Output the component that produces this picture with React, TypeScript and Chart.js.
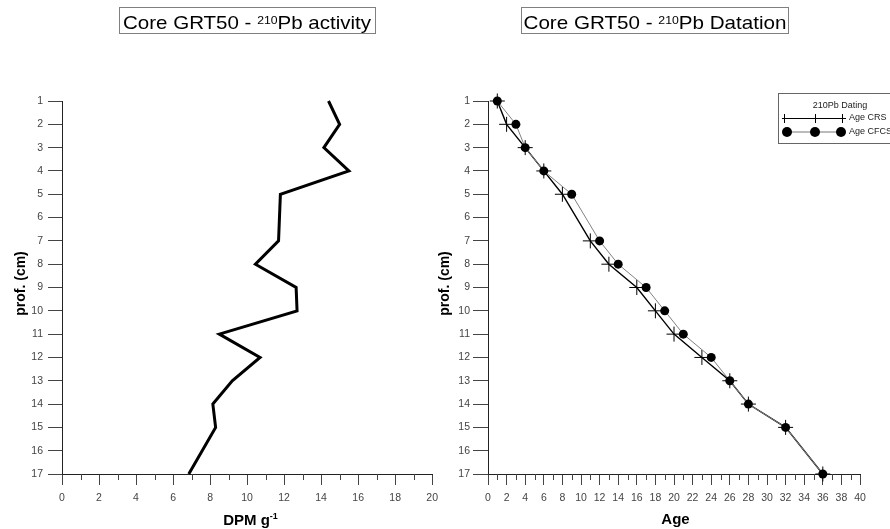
import React, { useEffect, useRef } from "react";
import { Chart, registerables } from "chart.js";

Chart.register(...registerables);

// ---------- data ----------
const depths = [1, 2, 3, 4, 5, 7, 8, 9, 10, 11, 12, 13, 14, 15, 17];
const activity = [14.4, 15.0, 14.15, 15.5, 11.8, 11.7, 10.45, 12.65, 12.7, 8.5, 10.7, 9.2, 8.15, 8.3, 6.85];
const ageCRS = [1, 2, 4, 6, 8, 11, 13, 16, 18, 20, 23, 26, 28, 32, 36];
const ageCFCS = [1, 3, 4, 6, 9, 12, 14, 17, 19, 21, 24, 26, 28, 32, 36];
const depthRange = [1, 17];
const activityRange = [0, 20];
const ageRange = [0, 40];
const legendTitle = "210Pb Dating";
const seriesNames = ["Age CRS", "Age CFCS"];

const FONT = "'Liberation Sans', Arial, Helvetica, sans-serif";

type Part = { t: string; sup?: boolean };

function partsWidth(ctx: CanvasRenderingContext2D, parts: Part[], font: string, supFont: string) {
  let w = 0;
  for (const p of parts) {
    ctx.font = p.sup ? supFont : font;
    w += ctx.measureText(p.t).width;
  }
  return w;
}

function drawParts(
  ctx: CanvasRenderingContext2D,
  parts: Part[],
  x: number,
  y: number,
  font: string,
  supFont: string,
  rise: number,
  targetW?: number
) {
  const w = partsWidth(ctx, parts, font, supFont);
  const s = targetW ? targetW / w : 1;
  ctx.save();
  ctx.translate(x, y);
  ctx.scale(s, 1);
  ctx.textAlign = "left";
  ctx.textBaseline = "alphabetic";
  let cx = 0;
  for (const p of parts) {
    ctx.font = p.sup ? supFont : font;
    ctx.fillText(p.t, cx, p.sup ? -rise : 0);
    cx += ctx.measureText(p.t).width;
  }
  ctx.restore();
  return w * s;
}

function drawCentered(
  ctx: CanvasRenderingContext2D,
  parts: Part[],
  cx: number,
  y: number,
  font: string,
  supFont: string,
  rise: number
) {
  const w = partsWidth(ctx, parts, font, supFont);
  drawParts(ctx, parts, cx - w / 2, y, font, supFont, rise);
}

function drawYTitle(ctx: CanvasRenderingContext2D, text: string, cx: number, cy: number) {
  ctx.save();
  ctx.translate(cx, cy);
  ctx.rotate(-Math.PI / 2);
  ctx.font = `bold 14px ${FONT}`;
  ctx.fillStyle = "#000";
  ctx.textAlign = "center";
  ctx.textBaseline = "middle";
  ctx.fillText(text, 0, 0);
  ctx.restore();
}

function drawMinorTicks(chart: any, max: number) {
  const ctx: CanvasRenderingContext2D = chart.ctx;
  const xs = chart.scales.x;
  const bottom = chart.chartArea.bottom;
  ctx.save();
  ctx.strokeStyle = "#444";
  ctx.lineWidth = 1;
  ctx.beginPath();
  for (let v = 1; v < max; v += 2) {
    const px = Math.round(xs.getPixelForValue(v)) + 0.5;
    ctx.moveTo(px, bottom);
    ctx.lineTo(px, bottom + 6);
  }
  ctx.stroke();
  ctx.restore();
}

const leftDecor = {
  id: "leftDecor",
  afterDraw(chart: any) {
    const ctx: CanvasRenderingContext2D = chart.ctx;
    ctx.save();
    ctx.strokeStyle = "#808080";
    ctx.lineWidth = 1;
    ctx.strokeRect(119.5, 7.5, 256, 26);
    ctx.fillStyle = "#000";
    drawParts(
      ctx,
      [{ t: "Core GRT50 - " }, { t: "210", sup: true }, { t: "Pb activity" }],
      123,
      28.5,
      `18.5px ${FONT}`,
      `11px ${FONT}`,
      4.5,
      248
    );
    drawCentered(ctx, [{ t: "DPM g" }, { t: "-1", sup: true }], 250.5, 524.5, `bold 15px ${FONT}`, `bold 9px ${FONT}`, 5.5);
    drawYTitle(ctx, "prof. (cm)", 21.5, 283.5);
    ctx.restore();
    drawMinorTicks(chart, activityRange[1]);
  },
};

const rightDecor = {
  id: "rightDecor",
  afterDraw(chart: any) {
    const ctx: CanvasRenderingContext2D = chart.ctx;
    const ox = 430;
    ctx.save();
    ctx.strokeStyle = "#808080";
    ctx.lineWidth = 1;
    ctx.strokeRect(521.5 - ox, 7.5, 267, 26);
    ctx.fillStyle = "#000";
    drawParts(
      ctx,
      [{ t: "Core GRT50 - " }, { t: "210", sup: true }, { t: "Pb Datation" }],
      523.5 - ox,
      28.5,
      `18.5px ${FONT}`,
      `11px ${FONT}`,
      4.5,
      263
    );
    drawCentered(ctx, [{ t: "Age" }], 675.5 - ox, 523.5, `bold 15px ${FONT}`, `bold 9px ${FONT}`, 5);
    drawYTitle(ctx, "prof. (cm)", 445 - ox, 283.5);

    // legend
    ctx.strokeStyle = "#666";
    ctx.lineWidth = 1;
    ctx.strokeRect(778.5 - ox, 93.5, 200, 50);
    ctx.font = `9px ${FONT}`;
    ctx.fillStyle = "#222";
    ctx.textAlign = "center";
    ctx.textBaseline = "middle";
    ctx.fillText(legendTitle, 840 - ox, 106);
    ctx.textAlign = "left";
    ctx.fillText(seriesNames[0], 849 - ox, 118);
    ctx.fillText(seriesNames[1], 849 - ox, 132);
    // CRS sample
    ctx.strokeStyle = "#000";
    ctx.beginPath();
    ctx.moveTo(782 - ox, 118.5);
    ctx.lineTo(846 - ox, 118.5);
    for (const tx of [784, 815, 842]) {
      ctx.moveTo(tx - ox + 0.5, 114);
      ctx.lineTo(tx - ox + 0.5, 123);
    }
    ctx.stroke();
    // CFCS sample
    ctx.strokeStyle = "#777";
    ctx.beginPath();
    ctx.moveTo(784 - ox, 132);
    ctx.lineTo(844 - ox, 132);
    ctx.stroke();
    ctx.fillStyle = "#000";
    for (const cx of [787, 815, 841]) {
      ctx.beginPath();
      ctx.arc(cx - ox, 132, 5, 0, Math.PI * 2);
      ctx.fill();
    }
    ctx.restore();
    drawMinorTicks(chart, ageRange[1]);
  },
};

function axes(xMax: number, xMin: number, yWidth: number, yTickLen: number, yPad: number) {
  return {
    x: {
      type: "linear" as const,
      min: xMin,
      max: xMax,
      afterFit: (s: any) => {
        s.height = 40;
      },
      ticks: {
        stepSize: 2,
        padding: 7,
        color: "#444",
        font: { family: FONT, size: 10.5 },
        maxRotation: 0,
        autoSkip: false,
      },
      grid: { display: true, drawOnChartArea: false, drawTicks: true, tickLength: 11, color: "#444", lineWidth: 1 },
      border: { display: true, color: "#222", width: 1 },
    },
    y: {
      type: "linear" as const,
      min: depthRange[0],
      max: depthRange[1],
      reverse: true,
      afterFit: (s: any) => {
        s.width = yWidth;
      },
      ticks: {
        stepSize: 1,
        padding: yPad,
        color: "#444",
        font: { family: FONT, size: 10.5 },
        autoSkip: false,
      },
      grid: { display: true, drawOnChartArea: false, drawTicks: true, tickLength: yTickLen, color: "#444", lineWidth: 1 },
      border: { display: true, color: "#222", width: 1 },
    },
  };
}

export default function App() {
  const leftRef = useRef<HTMLCanvasElement | null>(null);
  const rightRef = useRef<HTMLCanvasElement | null>(null);

  useEffect(() => {
    const left = new Chart(leftRef.current as HTMLCanvasElement, {
      type: "line",
      data: {
        datasets: [
          {
            label: "activity",
            data: depths.map((d, i) => ({ x: activity[i], y: d })),
            borderColor: "#000",
            borderWidth: 3,
            pointRadius: 0,
            tension: 0,
            fill: false,
            clip: false as any,
            borderJoinStyle: "miter",
          },
        ],
      },
      options: {
        responsive: false,
        animation: false,
        layout: { padding: { top: 101, left: 0, right: 11, bottom: 15 } },
        plugins: { legend: { display: false }, title: { display: false }, tooltip: { enabled: false } },
        scales: axes(activityRange[1], activityRange[0], 62, 14, 5),
      },
      plugins: [leftDecor],
    } as any);

    const right = new Chart(rightRef.current as HTMLCanvasElement, {
      type: "line",
      data: {
        datasets: [
          {
            label: seriesNames[1],
            data: depths.map((d, i) => ({ x: ageCFCS[i], y: d })),
            borderColor: "#808080",
            borderWidth: 1,
            pointStyle: "circle",
            pointRadius: 4.5,
            pointBackgroundColor: "#000",
            pointBorderColor: "#000",
            pointBorderWidth: 0,
            tension: 0,
            fill: false,
            clip: false as any,
            order: 1,
          },
          {
            label: seriesNames[0],
            data: depths.map((d, i) => ({ x: ageCRS[i], y: d })),
            borderColor: "#000",
            borderWidth: 1.4,
            pointStyle: "cross",
            pointRadius: 7.5,
            pointBorderColor: "#000",
            pointBorderWidth: 1,
            tension: 0,
            fill: false,
            clip: false as any,
            order: 2,
          },
        ],
      },
      options: {
        responsive: false,
        animation: false,
        layout: { padding: { top: 101, left: 0, right: 30, bottom: 15 } },
        plugins: { legend: { display: false }, title: { display: false }, tooltip: { enabled: false } },
        scales: axes(ageRange[1], ageRange[0], 58, 15, 3),
      },
      plugins: [rightDecor],
    } as any);

    return () => {
      left.destroy();
      right.destroy();
    };
  }, []);

  return (
    <div style={{ position: "absolute", left: 0, top: 0, width: 890, height: 529, background: "#fff", overflow: "hidden" }}>
      <canvas ref={leftRef} width={445} height={529} style={{ position: "absolute", left: 0, top: 0 }} />
      <canvas ref={rightRef} width={460} height={529} style={{ position: "absolute", left: 430, top: 0 }} />
    </div>
  );
}
